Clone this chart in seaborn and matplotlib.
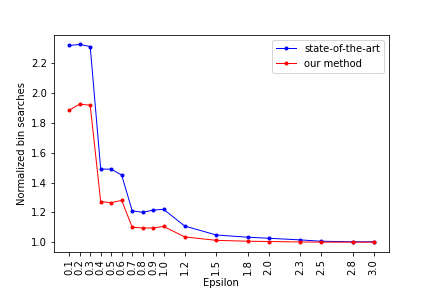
import numpy as np
import pandas as pd
import matplotlib
matplotlib.use("Agg")
import matplotlib.pyplot as plt
import seaborn as sns

epsilon = [0.1, 0.2, 0.3, 0.4, 0.5, 0.6, 0.7, 0.8, 0.9, 1.0,
           1.2, 1.5, 1.8, 2.0, 2.3, 2.5, 2.8, 3.0]
state_of_the_art = [2.32, 2.327, 2.313, 1.49, 1.49, 1.45, 1.21, 1.20, 1.215, 1.22,
                    1.108, 1.048, 1.033, 1.026, 1.015, 1.006, 1.002, 1.002]
our_method = [1.886, 1.926, 1.919, 1.272, 1.265, 1.28, 1.10, 1.095, 1.095, 1.105,
              1.035, 1.012, 1.006, 1.004, 1.001, 1.0, 1.0, 1.0]

df = pd.DataFrame({
    "Epsilon": epsilon * 2,
    "value": state_of_the_art + our_method,
    "method": ["state-of-the-art"] * len(epsilon) + ["our method"] * len(epsilon),
})

fig, ax = plt.subplots(figsize=(6, 4), dpi=72)
fig.subplots_adjust(bottom=0.125)
sns.lineplot(data=df, x="Epsilon", y="value", hue="method",
             palette={"state-of-the-art": "blue", "our method": "red"},
             marker=".", markersize=8, markeredgewidth=0, linewidth=1, ax=ax)

ax.set_xticks(epsilon)
ax.set_xticklabels([f"{e:.1f}" for e in epsilon], rotation=90)
ax.set_xlabel("Epsilon", labelpad=3)
ax.set_ylabel("Normalized bin searches")
ax.legend(loc="upper right")

plt.savefig("out.png", dpi=72)
plt.close()
